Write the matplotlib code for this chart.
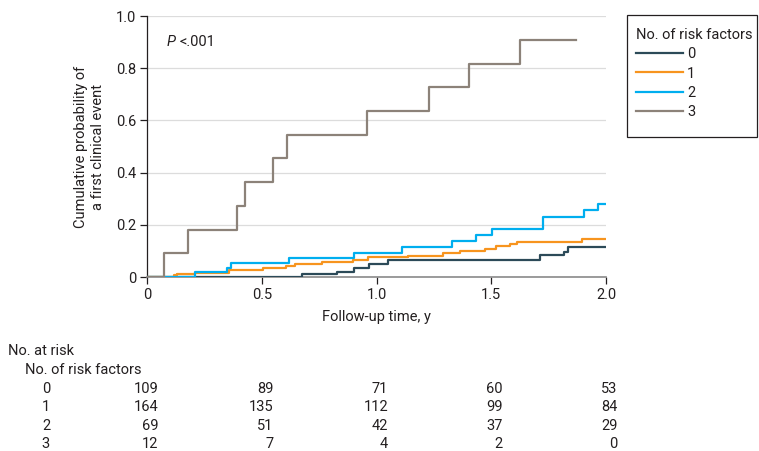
import matplotlib
matplotlib.use("Agg")
import matplotlib.pyplot as plt
import matplotlib.transforms as mtransforms
from matplotlib.lines import Line2D
from matplotlib.patches import Rectangle

plt.rcParams['font.family'] = ['Roboto', 'DejaVu Sans']
FS = 10.5
TXT = '#231f20'

# step curves (time in years, cumulative probability)
t0 = [0, 0.216, 0.674, 0.828, 0.902, 0.967, 1.052, 1.712, 1.818, 1.836, 2.0]
y0 = [0, 0.0, 0.010, 0.019, 0.036, 0.051, 0.065, 0.083, 0.097, 0.114, 0.114]

t1 = [0, 0.118, 0.129, 0.209, 0.357, 0.504, 0.606, 0.645, 0.761, 0.898, 0.963,
      1.139, 1.291, 1.364, 1.473, 1.519, 1.582, 1.614, 1.897, 2.0]
y1 = [0, 0.006, 0.013, 0.017, 0.028, 0.036, 0.043, 0.051, 0.059, 0.066, 0.075,
      0.082, 0.091, 0.100, 0.109, 0.118, 0.126, 0.135, 0.146, 0.146]

t2 = [0, 0.209, 0.349, 0.366, 0.620, 0.902, 1.110, 1.331, 1.432, 1.502, 1.727,
      1.906, 1.964, 2.0]
y2 = [0, 0.018, 0.036, 0.052, 0.071, 0.092, 0.116, 0.139, 0.161, 0.183, 0.231,
      0.257, 0.280, 0.280]

t3 = [0, 0.073, 0.179, 0.390, 0.426, 0.547, 0.608, 0.959, 1.228, 1.404, 1.624, 1.869]
y3 = [0, 0.091, 0.182, 0.273, 0.364, 0.455, 0.545, 0.636, 0.727, 0.818, 0.909, 0.909]

groups = ['0', '1', '2', '3']
colors = ['#2c4a58', '#f7941e', '#00aeef', '#8c8279']

# number at risk table
risk_times = [0, 0.5, 1.0, 1.5, 2.0]
at_risk = [
    [109, 89, 71, 60, 53],
    [164, 135, 112, 99, 84],
    [69, 51, 42, 37, 29],
    [12, 7, 4, 2, 0],
]

fig = plt.figure(figsize=(7.59, 4.51), dpi=100)
ax = fig.add_axes([0.1937, 0.3858, 0.6047, 0.5787])

series = [(t0, y0), (t1, y1), (t2, y2), (t3, y3)]
for (t, y), c, g in zip(series, colors, groups):
    ax.step(t, y, where='post', color=c, lw=1.6, label=g, zorder=3)

ax.set_xlim(0, 2.0)
ax.set_ylim(0, 1.0)
ax.set_xticks([0, 0.5, 1.0, 1.5, 2.0])
ax.set_xticklabels(['0', '0.5', '1.0', '1.5', '2.0'])
ax.set_yticks([0, 0.2, 0.4, 0.6, 0.8, 1.0])
ax.set_yticklabels(['0', '0.2', '0.4', '0.6', '0.8', '1.0'])
ax.yaxis.grid(True, color='#dcdcdc', lw=0.9, zorder=0)
ax.set_axisbelow(True)
for s in ['top', 'right']:
    ax.spines[s].set_visible(False)
ax.spines['left'].set_color('#231f20')
ax.spines['bottom'].set_color('#8a8a8a')
ax.spines['left'].set_linewidth(0.9)
ax.spines['bottom'].set_linewidth(1.2)
ax.tick_params(axis='both', length=5, width=0.9, color='#231f20', labelcolor=TXT, labelsize=FS, pad=3)

ax.set_xlabel('Follow-up time, y', color=TXT, fontsize=FS, labelpad=6)
ax.set_ylabel('Cumulative probability of\na first clinical event', color=TXT, fontsize=FS, labelpad=8)

ptxt = ax.text(0.087, 0.90, 'P', color=TXT, fontsize=FS, va='center', style='italic')
ax.annotate('<.001', xy=(1, 0.5), xycoords=ptxt, xytext=(2.5, 0), textcoords='offset points',
            color=TXT, fontsize=FS, va='center')

# legend: contents without frame, box drawn separately
handles = [Line2D([0], [0], color=c, lw=1.6) for c in colors]
leg = fig.legend(handles, groups, title='No. of risk factors', loc='upper left',
                 bbox_to_anchor=(636 / 759, 1 - 28 / 451), frameon=False,
                 fontsize=FS, title_fontsize=FS, handlelength=3.2, handletextpad=0.3,
                 labelspacing=0.36, borderpad=0, borderaxespad=0, alignment='left')
for txt in leg.get_texts():
    txt.set_color(TXT)
leg.get_title().set_color(TXT)
fig.patches.append(Rectangle((627 / 759, 1 - 137 / 451), 130 / 759, 122 / 451,
                             transform=fig.transFigure, fill=False,
                             edgecolor='#231f20', lw=0.9))

# risk table below the axes
trans = mtransforms.blended_transform_factory(ax.transData, fig.transFigure)
fig.text(8 / 759, 1 - 351 / 451, 'No. at risk', color=TXT, fontsize=FS, va='center')
fig.text(25 / 759, 1 - 370 / 451, 'No. of risk factors', color=TXT, fontsize=FS, va='center')
row_y = [389, 407, 426, 444]
for g, counts, ry in zip(groups, at_risk, row_y):
    fig.text(46 / 759, 1 - ry / 451, g, color=TXT, fontsize=FS, va='center', ha='center')
    for tt, n in zip(risk_times, counts):
        ax.text(tt + 0.05, 1 - ry / 451, str(n), transform=trans, color=TXT,
                fontsize=FS, va='center', ha='right', clip_on=False)

fig.savefig('out.png', dpi=100)
